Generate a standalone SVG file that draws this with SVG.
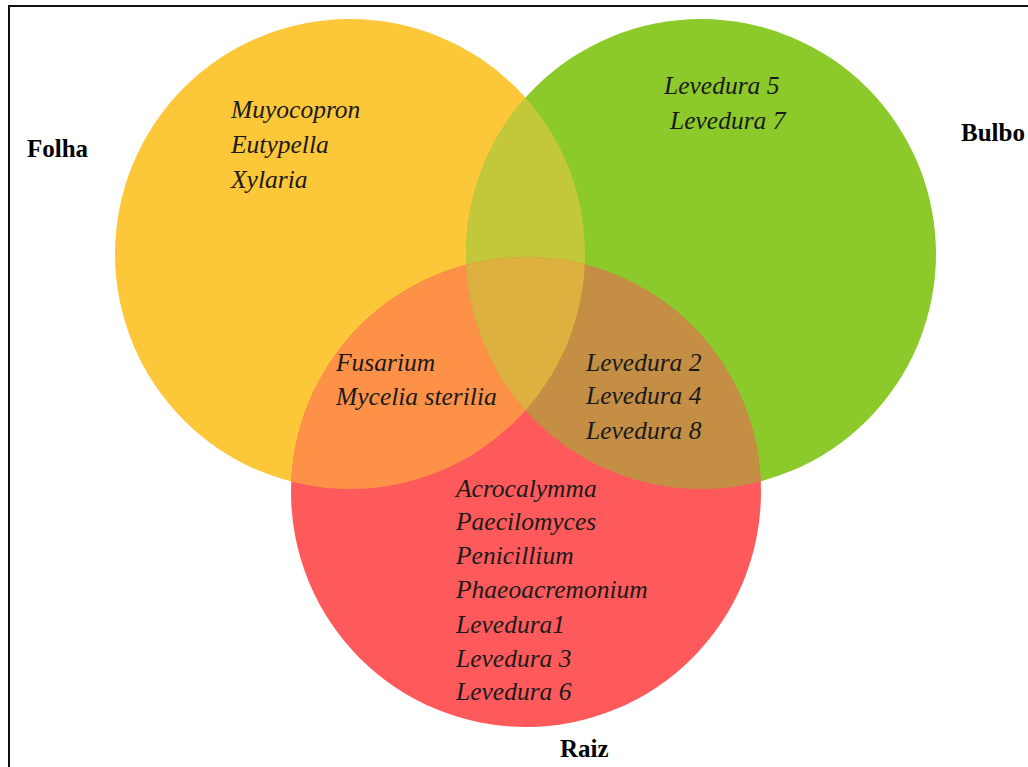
<svg xmlns="http://www.w3.org/2000/svg" width="1028" height="767" viewBox="0 0 1028 767">
<style>
.t{font-family:"Liberation Serif","Times New Roman",serif;font-style:italic;font-size:25.5px;fill:#1a1a1a}
.lbl{font-family:"Liberation Serif","Times New Roman",serif;font-weight:bold;font-size:25px;fill:#000}
</style>
<defs>
<clipPath id="cF"><circle cx="350" cy="254" r="235"/></clipPath>
<clipPath id="cB"><circle cx="701" cy="254" r="235"/></clipPath>
<clipPath id="cR"><circle cx="526" cy="492" r="235"/></clipPath>
</defs>
<rect x="0" y="0" width="1028" height="767" fill="#fff"/>
<rect x="9" y="6" width="1040" height="800" fill="none" stroke="#111" stroke-width="2"/>
<g id="folha">
<circle cx="350" cy="254" r="235" fill="#FDC73A"/>
</g>
<g id="bulbo">
<circle cx="701" cy="254" r="235" fill="#8CC92A"/>
</g>
<g id="raiz">
<circle cx="526" cy="492" r="235" fill="#FE5A5C"/>
</g>
<g id="overlaps">
<circle cx="701" cy="254" r="235" fill="#C3C83A" clip-path="url(#cF)"/>
<circle cx="526" cy="492" r="235" fill="#FD9148" clip-path="url(#cF)"/>
<circle cx="526" cy="492" r="235" fill="#C48E45" clip-path="url(#cB)"/>
<g clip-path="url(#cF)"><circle cx="526" cy="492" r="235" fill="#DCB13F" clip-path="url(#cB)"/></g>
</g>
<g id="labels">
<text class="lbl" x="27" y="157">Folha</text>
<text class="lbl" x="961" y="141">Bulbo</text>
<text class="lbl" x="560" y="757">Raiz</text>
</g>
<g id="folha-only">
<text class="t" x="231" y="118">Muyocopron</text>
<text class="t" x="231" y="153">Eutypella</text>
<text class="t" x="231" y="188">Xylaria</text>
</g>
<g id="bulbo-only">
<text class="t" x="664" y="94">Levedura 5</text>
<text class="t" x="670" y="129">Levedura 7</text>
</g>
<g id="folha-raiz">
<text class="t" x="336" y="371">Fusarium</text>
<text class="t" x="336" y="405">Mycelia sterilia</text>
</g>
<g id="bulbo-raiz">
<text class="t" x="586" y="371">Levedura 2</text>
<text class="t" x="586" y="404">Levedura 4</text>
<text class="t" x="586" y="439">Levedura 8</text>
</g>
<g id="raiz-only">
<text class="t" x="456" y="497">Acrocalymma</text>
<text class="t" x="456" y="530">Paecilomyces</text>
<text class="t" x="456" y="564">Penicillium</text>
<text class="t" x="456" y="598">Phaeoacremonium</text>
<text class="t" x="456" y="633">Levedura1</text>
<text class="t" x="456" y="667">Levedura 3</text>
<text class="t" x="456" y="700">Levedura 6</text>
</g>
</svg>
